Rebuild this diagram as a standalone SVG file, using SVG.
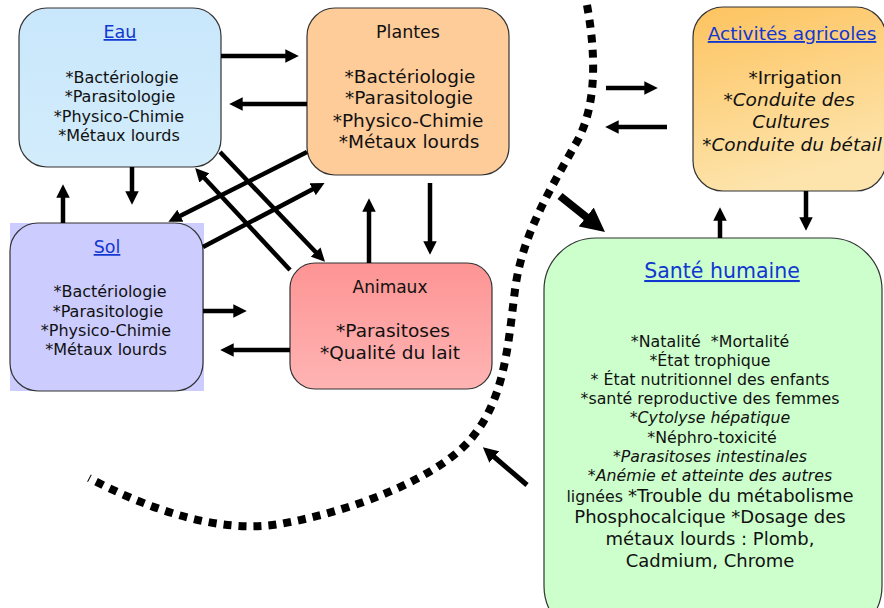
<svg xmlns="http://www.w3.org/2000/svg" width="884" height="608" viewBox="0 0 884 608">
<defs>
<style>
text{font-family:"DejaVu Sans","Liberation Sans",sans-serif;fill:#111;text-anchor:middle}
.box{stroke:#333;stroke-width:1.2}
.ttl{fill:#1237d0;text-decoration:underline}
.arr{stroke:#000;stroke-width:4.5;fill:none;marker-end:url(#ah)}
.it{font-style:italic}
</style>
<marker id="ah" viewBox="0 0 10 10" refX="2" refY="5" markerWidth="3" markerHeight="3" orient="auto"><path d="M0,0 L10,5 L0,10 z" fill="#000"/></marker>
<linearGradient id="gAct" x1="0" y1="0" x2="0.3" y2="1"><stop offset="0" stop-color="#fdc35f"/><stop offset="1" stop-color="#fde4ac"/></linearGradient>
<linearGradient id="gAni" x1="0" y1="0" x2="0" y2="1"><stop offset="0" stop-color="#fd9494"/><stop offset="1" stop-color="#ffb4b4"/></linearGradient>
<linearGradient id="gEau" x1="0" y1="0" x2="0" y2="1"><stop offset="0" stop-color="#c9e7fc"/><stop offset="1" stop-color="#d2ecfb"/></linearGradient>
</defs>

<g id="eau">
<rect class="box" x="19" y="8" width="202" height="159" rx="28" fill="url(#gEau)"/>
<text class="ttl" x="120" y="38" font-size="17.5">Eau</text>
<text x="122" y="83" font-size="16">*Bactériologie</text>
<text x="120" y="102" font-size="16">*Parasitologie</text>
<text x="119" y="122" font-size="16">*Physico-Chimie</text>
<text x="119" y="141" font-size="16">*Métaux lourds</text>
</g>

<g id="plantes">
<rect class="box" x="307" y="8" width="202" height="167" rx="28" fill="#fecc99"/>
<text x="408" y="38" font-size="17.5">Plantes</text>
<text x="410" y="83" font-size="18.5">*Bactériologie</text>
<text x="409" y="104" font-size="18.5">*Parasitologie</text>
<text x="408" y="127" font-size="18.5">*Physico-Chimie</text>
<text x="409" y="148" font-size="18.5">*Métaux lourds</text>
</g>

<g id="activites">
<rect class="box" x="693" y="7" width="193" height="184" rx="30" fill="url(#gAct)"/>
<text class="ttl" x="792" y="40" font-size="18.5">Activités agricoles</text>
<text x="795" y="84" font-size="18.5">*Irrigation</text>
<text class="it" x="789" y="106" font-size="18.5">*Conduite des</text>
<text class="it" x="791" y="128" font-size="18.5">Cultures</text>
<text class="it" x="792" y="151" font-size="18.5">*Conduite du bétail</text>
</g>

<g id="sol">
<rect x="10" y="223" width="194" height="168" fill="#ccccff"/>
<rect class="box" x="10" y="223" width="193" height="168" rx="28" fill="#ccccff"/>
<text class="ttl" x="107" y="253" font-size="17.5">Sol</text>
<text x="110" y="297" font-size="16">*Bactériologie</text>
<text x="108" y="317" font-size="16">*Parasitologie</text>
<text x="106" y="336" font-size="16">*Physico-Chimie</text>
<text x="106" y="355" font-size="16">*Métaux lourds</text>
</g>

<g id="animaux">
<rect class="box" x="290" y="263" width="202" height="126" rx="25" fill="url(#gAni)"/>
<text x="390" y="293" font-size="17">Animaux</text>
<text x="393" y="337" font-size="18.5">*Parasitoses</text>
<text x="390" y="359" font-size="18.5">*Qualité du lait</text>
</g>

<g id="sante">
<rect class="box" x="544" y="238" width="338" height="400" rx="52" fill="#ccffcc"/>
<text class="ttl" x="722" y="278" font-size="20.5">Santé humaine</text>
<text x="710" y="347" font-size="15.8" xml:space="preserve">*Natalité  *Mortalité</text>
<text x="710" y="366" font-size="15.8">*État trophique</text>
<text x="710" y="385" font-size="15.8">* État nutritionnel des enfants</text>
<text x="710" y="404" font-size="15.8">*santé reproductive des femmes</text>
<text class="it" x="710" y="423" font-size="15.8">*Cytolyse hépatique</text>
<text x="712" y="443" font-size="15.8">*Néphro-toxicité</text>
<text class="it" x="710" y="462" font-size="15.8">*Parasitoses intestinales</text>
<text class="it" x="710" y="481" font-size="15.8">*Anémie et atteinte des autres</text>
<text x="710" y="502" font-size="18"><tspan font-size="15.8">lignées </tspan>*Trouble du métabolisme</text>
<text x="710" y="523" font-size="18">Phosphocalcique *Dosage des</text>
<text x="710" y="545" font-size="18">métaux lourds : Plomb,</text>
<text x="710" y="567" font-size="18">Cadmium, Chrome</text>
</g>

<g id="connectors">
<path d="M587 5 C597 60 596 110 575 145 C550 190 522 235 515 290 C508 345 505 400 470 440 C440 475 360 510 280 524 C220 534 150 510 89 478" fill="none" stroke="#000" stroke-width="8" stroke-dasharray="8 7"/>
<line class="arr" x1="221" y1="56" x2="288" y2="56"/>
<line class="arr" x1="307" y1="104" x2="240" y2="104"/>
<line class="arr" x1="132" y1="167" x2="132" y2="194"/>
<line class="arr" x1="63" y1="223" x2="63" y2="195"/>
<line class="arr" x1="220" y1="152" x2="317.5" y2="254"/>
<line class="arr" x1="290" y1="270" x2="202.5" y2="176"/>
<line class="arr" x1="307" y1="152" x2="178" y2="217"/>
<line class="arr" x1="203" y1="247" x2="315" y2="188"/>
<line class="arr" x1="369" y1="263" x2="369" y2="209"/>
<line class="arr" x1="430" y1="183" x2="430" y2="244"/>
<line class="arr" x1="203" y1="311" x2="236" y2="311"/>
<line class="arr" x1="290" y1="350" x2="231" y2="350"/>
<line class="arr" x1="606" y1="88" x2="647" y2="88"/>
<line class="arr" x1="667" y1="127" x2="616" y2="127"/>
<line class="arr" x1="806" y1="191" x2="806" y2="220"/>
<line class="arr" x1="720" y1="238" x2="720" y2="218"/>
<line class="arr" style="stroke-width:8" x1="560" y1="196" x2="590" y2="220"/>
<line class="arr" style="stroke-width:5" x1="527" y1="485" x2="492" y2="455"/>
</g>
</svg>
